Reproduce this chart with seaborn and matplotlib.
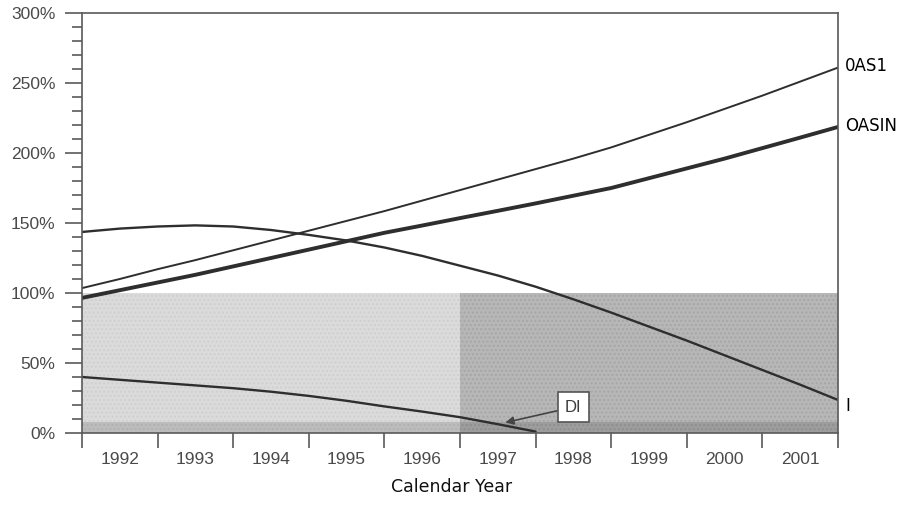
import pandas as pd
import seaborn as sns
import matplotlib.pyplot as plt

# values (percent), every half year
years = [1992, 1992.5, 1993, 1993.5, 1994, 1994.5, 1995, 1995.5, 1996, 1996.5, 1997,
         1997.5, 1998, 1998.5, 1999, 1999.5, 2000, 2000.5, 2001, 2001.5, 2002]
oas1 = [103.5, 110, 117, 123.5, 130.5, 137.5, 144.5, 151.5, 158.5, 166, 173.5,
        181, 188.5, 196, 204, 213, 222, 231.5, 241, 251, 261]
oasin = [96.5, 102, 107.5, 113, 119, 125, 131, 137, 143, 148.2, 153.5,
         158.7, 164, 169.5, 175, 182, 189, 196, 203.5, 211, 218.6]
i_ratio = [143.6, 146, 147.5, 148.3, 147.5, 145, 141.5, 137.5, 132.5, 126.5, 119.5,
           112.5, 104.5, 95.5, 86, 76, 66, 55.5, 45, 34.5, 23.6]
di_years = [1992, 1992.5, 1993, 1993.5, 1994, 1994.5, 1995, 1995.5, 1996, 1996.5, 1997, 1997.5, 1998]
di_ratio = [40, 38, 36, 34, 32, 29.5, 26.5, 23, 19, 15.3, 11.3, 6.3, 1]

tick_years = [1992, 1993, 1994, 1995, 1996, 1997, 1998, 1999, 2000, 2001, 2002]
year_labels = ['1992', '1993', '1994', '1995', '1996', '1997', '1998', '1999', '2000', '2001']
y_major = [0, 50, 100, 150, 200, 250, 300]
y_labels = ['0%', '50%', '100%', '150%', '200%', '250%', '300%']

# shaded zones: first five years, last five years, and a floor strip
zone_start = [1992, 1997]
zone_end = [1997, 2002]
zone_top = [100, 100]
floor_top = 8

sns.set_style('white')
plt.rcParams['font.family'] = ['DejaVu Sans']

fig = plt.figure(figsize=(9.04, 5.2), dpi=100)
ax = fig.add_axes([82 / 904, 1 - 433 / 520, (838 - 82) / 904, (433 - 13) / 520])

# background zones
zone_colors = ['#dbdbdb', '#b7b7b7']
zone_edge = ['#cfcfcf', '#a6a6a6']
for s, e, t, c, ec in zip(zone_start, zone_end, zone_top, zone_colors, zone_edge):
    ax.fill_between([s, e], 0, t, facecolor=c, hatch='....', edgecolor=ec, linewidth=0, zorder=0)
ax.fill_between([zone_start[0], zone_end[-1]], 0, floor_top, facecolor='#000000', alpha=0.14,
                linewidth=0, zorder=0.5)

df = pd.DataFrame({'year': years, 'OAS1': oas1, 'OASIN': oasin, 'I': i_ratio})
line_col = '#2e2e2e'
sns.lineplot(data=df, x='year', y='OAS1', color=line_col, lw=1.4, ax=ax)
sns.lineplot(data=df, x='year', y='OASIN', color=line_col, lw=2.8, ax=ax)
sns.lineplot(data=df, x='year', y='I', color=line_col, lw=1.7, ax=ax)
sns.lineplot(x=di_years, y=di_ratio, color=line_col, lw=1.7, ax=ax)

ax.set_xlim(tick_years[0], tick_years[-1])
ax.set_ylim(0, 300)

# right-side series labels
lab_kw = dict(textcoords='offset points', fontsize=12, color='black', va='center', annotation_clip=False)
ax.annotate('0AS1', xy=(years[-1], oas1[-1]), xytext=(5, 1), **lab_kw)
ax.annotate('OASIN', xy=(years[-1], oasin[-1]), xytext=(5, 1), **lab_kw)
ax.annotate('I', xy=(years[-1], i_ratio[-1]), xytext=(5, -4), **lab_kw)

# DI callout
ax.annotate('DI', xy=(1997.6, 7.5), xytext=(1998.5, 18.5), ha='center', va='center',
            fontsize=12, family='Liberation Sans', color='#3a3a3a',
            bbox=dict(boxstyle='square,pad=0.45', fc='white', ec='#555555', lw=1.2),
            arrowprops=dict(arrowstyle='-|>', color='#444444', lw=1.2, mutation_scale=12,
                            shrinkA=0, shrinkB=0))

# axes styling
spine_col = '#5a5a5a'
for sp in ax.spines.values():
    sp.set_visible(True)
    sp.set_color(spine_col)
    sp.set_linewidth(1.2)

ax.set_yticks(y_major)
ax.set_yticklabels(y_labels)
ax.set_yticks(range(0, 301, 10), minor=True)
ax.tick_params(axis='y', which='major', direction='out', length=12, width=1.2, color=spine_col,
               pad=7, labelsize=12.5, labelcolor='#4a4a4a', left=True)
ax.tick_params(axis='y', which='minor', direction='out', length=7, width=1.2, color=spine_col, left=True)
for t in ax.get_yticklabels():
    t.set_family('Liberation Sans')

ax.set_xticks(tick_years)
ax.set_xticklabels([])
ax.set_xticks([y + 0.5 for y in tick_years[:-1]], minor=True)
ax.set_xticklabels(year_labels, minor=True)
ax.tick_params(axis='x', which='major', direction='out', length=11, width=1.2, color=spine_col, bottom=True)
ax.tick_params(axis='x', which='minor', length=0, pad=14, labelsize=12.5, labelcolor='#4a4a4a')
for t in ax.get_xticklabels(minor=True):
    t.set_family('Liberation Sans')

ax.set_xlabel('')
ax.set_ylabel('')
fig.text(0.5, 1 - 487 / 520, 'Calendar Year', ha='center', va='center', fontsize=12.5, color='#111111')

fig.savefig('out.png', dpi=100)
